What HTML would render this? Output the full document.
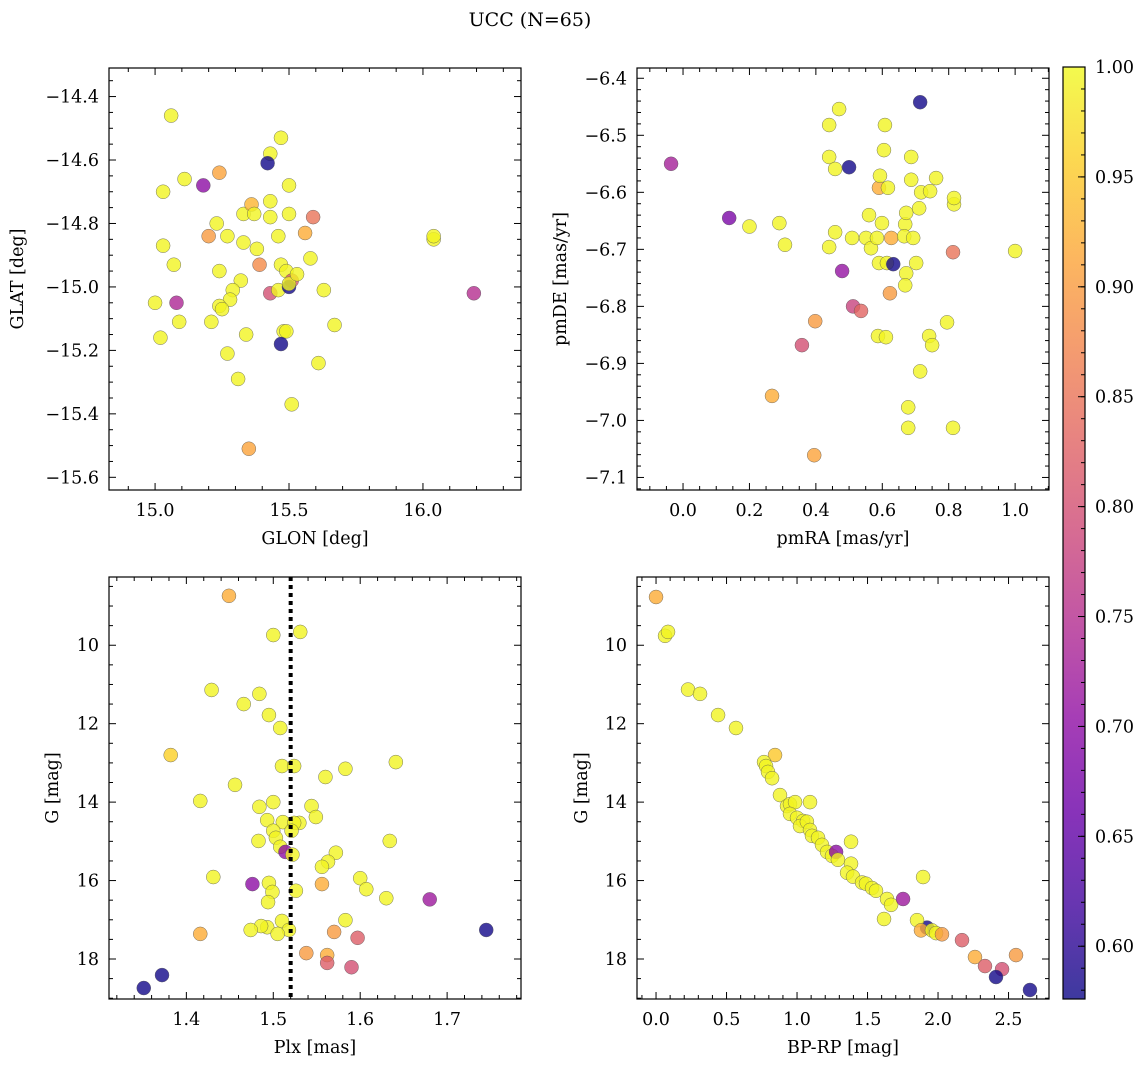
<!DOCTYPE html>
<html><head><meta charset="utf-8">
<style>
html,body{margin:0;padding:0;background:#fff;}
svg{display:block;font-family:"DejaVu Serif","Liberation Serif",serif;}
</style></head>
<body>
<svg id="fig" width="1148" height="1067" viewBox="0 0 1148 1067" xmlns="http://www.w3.org/2000/svg">
<defs>
<linearGradient id="plasma" x1="0" y1="1" x2="0" y2="0">
<stop offset="0" stop-color="#0d0887"/><stop offset="0.1" stop-color="#41049d"/><stop offset="0.2" stop-color="#6a00a8"/><stop offset="0.3" stop-color="#8f0da4"/><stop offset="0.4" stop-color="#b12a90"/><stop offset="0.5" stop-color="#cc4778"/><stop offset="0.6" stop-color="#e16462"/><stop offset="0.7" stop-color="#f2844b"/><stop offset="0.8" stop-color="#fca636"/><stop offset="0.9" stop-color="#fcce25"/><stop offset="1" stop-color="#f0f921"/>
</linearGradient>
</defs>
<text x="530" y="26" font-size="19" text-anchor="middle">UCC (N=65)</text>
</svg>
<script>
// ---- Panel 1: GLON vs GLAT ----
const p1x=[15.06,15.03,15.11,15.18,15.24,15.43,15.42,15.47,15.50,15.03,15.07,15.20,15.23,15.27,15.24,15.33,15.36,15.37,15.33,15.38,15.43,15.43,15.39,15.32,15.29,15.28,15.24,15.25,15.21,15.09,15.00,15.08,15.02,15.34,15.27,15.31,15.35,15.43,15.47,15.46,15.49,15.51,15.50,15.50,15.53,15.48,15.49,15.47,15.51,15.50,15.46,15.56,15.58,15.59,15.63,15.61,15.67,16.04,16.04,16.19];
const p1y=[-14.46,-14.70,-14.66,-14.68,-14.64,-14.58,-14.61,-14.53,-14.68,-14.87,-14.93,-14.84,-14.80,-14.84,-14.95,-14.77,-14.74,-14.77,-14.86,-14.88,-14.73,-14.78,-14.93,-14.98,-15.01,-15.04,-15.06,-15.07,-15.11,-15.11,-15.05,-15.05,-15.16,-15.15,-15.21,-15.29,-15.51,-15.02,-14.93,-15.01,-14.95,-14.98,-15.00,-14.99,-14.96,-15.14,-15.14,-15.18,-15.37,-14.77,-14.84,-14.83,-14.91,-14.78,-15.01,-15.24,-15.12,-14.85,-14.84,-15.02];
const p1c=[.995,.995,.995,.70,.91,.995,.58,.995,.995,.995,.995,.90,.995,.995,.995,.995,.93,.995,.995,.995,.995,.995,.88,.995,.995,.995,.995,.995,.995,.995,.995,.74,.995,.995,.995,.995,.91,.80,.995,.995,.995,.82,.58,.995,.995,.995,.995,.58,.995,.995,.995,.92,.995,.85,.995,.995,.995,.995,.995,.75];
// ---- Panel 2: pmRA vs pmDE ----
const p2x=[-0.036,0.139,0.20,0.29,0.307,0.47,0.44,0.44,0.458,0.50,0.458,0.44,0.479,0.509,0.512,0.536,0.398,0.358,0.268,0.395,0.551,0.56,0.566,0.584,0.59,0.593,0.605,0.608,0.617,0.599,0.59,0.614,0.623,0.587,0.611,0.627,0.633,0.669,0.672,0.666,0.672,0.669,0.678,0.678,0.687,0.687,0.693,0.702,0.714,0.711,0.714,0.717,0.744,0.762,0.741,0.75,0.795,0.816,0.816,0.813,0.813,1.0];
const p2y=[-6.55,-6.645,-6.66,-6.654,-6.692,-6.454,-6.482,-6.538,-6.559,-6.556,-6.67,-6.696,-6.738,-6.68,-6.80,-6.808,-6.826,-6.868,-6.957,-7.061,-6.68,-6.64,-6.698,-6.68,-6.592,-6.571,-6.526,-6.482,-6.592,-6.654,-6.724,-6.724,-6.777,-6.852,-6.854,-6.68,-6.726,-6.656,-6.636,-6.677,-6.742,-6.763,-6.977,-7.013,-6.578,-6.538,-6.68,-6.724,-6.442,-6.628,-6.914,-6.60,-6.598,-6.575,-6.852,-6.868,-6.828,-6.621,-6.61,-6.705,-7.013,-6.703];
const p2c=[.73,.68,.995,.995,.995,.995,.995,.995,.995,.58,.995,.995,.71,.995,.78,.83,.90,.80,.92,.91,.995,.995,.995,.995,.92,.995,.995,.995,.995,.995,.995,.995,.90,.995,.995,.92,.58,.995,.995,.995,.995,.995,.995,.995,.995,.995,.995,.995,.58,.995,.995,.995,.995,.995,.995,.995,.995,.995,.995,.85,.995,.995];
// ---- Panel 3: Plx vs G ----
const p3x=[1.449,1.500,1.531,1.429,1.466,1.484,1.495,1.508,1.382,1.510,1.524,1.583,1.641,1.416,1.456,1.560,1.500,1.484,1.544,1.549,1.530,1.493,1.511,1.524,1.500,1.521,1.483,1.503,1.634,1.508,1.514,1.522,1.572,1.563,1.556,1.431,1.476,1.495,1.499,1.526,1.556,1.600,1.607,1.494,1.583,1.630,1.680,1.510,1.493,1.486,1.474,1.518,1.505,1.570,1.416,1.597,1.538,1.562,1.562,1.590,1.372,1.351,1.745];
const p3y=[8.74,9.74,9.66,11.14,11.50,11.24,11.78,12.11,12.80,13.08,13.08,13.15,12.98,13.97,13.56,13.36,14.00,14.12,14.10,14.38,14.53,14.46,14.51,14.53,14.73,14.73,14.99,14.91,14.99,15.14,15.27,15.34,15.29,15.52,15.65,15.91,16.09,16.06,16.29,16.26,16.09,15.94,16.22,16.55,17.01,16.45,16.48,17.03,17.19,17.16,17.26,17.26,17.36,17.31,17.36,17.46,17.85,17.90,18.10,18.21,18.41,18.74,17.26];
const p3c=[.92,.995,.995,.995,.995,.995,.995,.995,.96,.995,.995,.995,.995,.995,.995,.995,.995,.995,.995,.995,.995,.995,.995,.995,.995,.995,.995,.995,.995,.995,.70,.995,.995,.995,.995,.995,.70,.995,.995,.995,.92,.995,.995,.995,.995,.995,.72,.995,.995,.995,.995,.995,.995,.90,.92,.82,.90,.92,.82,.80,.58,.58,.58];
// ---- Panel 4: BP-RP vs G ----
const p4x=[0.0,0.064,0.085,0.227,0.312,0.44,0.567,0.844,0.766,0.78,0.794,0.823,0.879,0.929,0.95,0.986,1.092,0.95,1.0,1.043,1.021,1.07,1.092,1.106,1.149,1.177,1.213,1.248,1.277,1.29,1.383,1.383,1.355,1.397,1.461,1.489,1.532,1.56,1.638,1.667,1.617,1.752,1.894,1.922,1.851,1.879,1.957,1.986,2.028,2.17,2.262,2.333,2.454,2.553,2.411,2.652];
const p4y=[8.77,9.76,9.66,11.13,11.24,11.78,12.11,12.80,12.98,13.08,13.23,13.39,13.82,14.10,14.05,14.00,14.00,14.30,14.40,14.48,14.61,14.50,14.71,14.86,14.91,15.09,15.27,15.37,15.27,15.47,15.01,15.57,15.80,15.90,16.05,16.08,16.19,16.26,16.47,16.62,16.98,16.47,15.91,17.20,17.01,17.27,17.27,17.34,17.37,17.52,17.95,18.18,18.26,17.90,18.46,18.79];
const p4c=[.92,.995,.995,.995,.995,.995,.995,.95,.995,.995,.995,.995,.995,.995,.995,.995,.995,.995,.995,.995,.995,.995,.995,.995,.995,.995,.995,.995,.70,.995,.995,.995,.995,.995,.995,.995,.995,.995,.995,.995,.995,.72,.995,.58,.995,.92,.995,.995,.90,.82,.92,.82,.80,.90,.58,.58];
// colorbar ticks
const cbTicks=[0.60,0.65,0.70,0.75,0.80,0.85,0.90,0.95,1.00];

const NS="http://www.w3.org/2000/svg";
const svg=document.getElementById('fig');
const VMIN=0.576,VMAX=1.0;
const FS=17.5;
const stops=[[13,8,135],[65,4,157],[106,0,168],[143,13,164],[177,42,144],[204,71,120],[225,100,98],[242,132,75],[252,166,54],[252,206,37],[240,249,33]];
function cmap(v){let t=(v-VMIN)/(VMAX-VMIN);t=Math.max(0,Math.min(1,t))*10;let i=Math.min(9,Math.floor(t)),f=t-i;const a=stops[i],b=stops[i+1];return 'rgb('+a.map((x,k)=>Math.round(x+(b[k]-x)*f)).join(',')+')';}
function el(tag,attrs,parent){const e=document.createElementNS(NS,tag);for(const k in attrs)e.setAttribute(k,attrs[k]);(parent||svg).appendChild(e);return e;}
function fmt(v,d){const s=Math.abs(v).toFixed(d);return (v<-1e-9?'\u2212':'')+s;}

function panel(o){
  const g=el('g',{});
  
  
  const sx=v=>o.x0+(v-o.xd[0])/(o.xd[1]-o.xd[0])*(o.x1-o.x0);
  const sy=v=>o.y1-(v-o.yd[0])/(o.yd[1]-o.yd[0])*(o.y1-o.y0);
  const pg=el('g',{},g);
  
  
  for(let i=0;i<o.px.length;i++){
    const c=el('circle',{cx:sx(o.px[i]),cy:sy(o.py[i]),r:7,fill:cmap(o.pc[i]),'fill-opacity':0.8,stroke:'#555','stroke-width':0.5,'stroke-opacity':0.8},pg);
    
    
  }
  if(o.vline!==undefined){
    const l=el('line',{x1:sx(o.vline),x2:sx(o.vline),y1:o.y0,y2:o.y1,stroke:'#000','stroke-width':4,'stroke-dasharray':'4,4'},g);
    
    
  }
  const fr=el('rect',{x:o.x0,y:o.y0,width:o.x1-o.x0,height:o.y1-o.y0,fill:'none',stroke:'#000','stroke-width':1.2},g);
  
  
  const tk=el('g',{stroke:'#000','stroke-width':1},g);
  const xlo=Math.min(...o.xd),xhi=Math.max(...o.xd),ylo=Math.min(...o.yd),yhi=Math.max(...o.yd);
  for(let v=Math.ceil(xlo/o.xmin-1e-6)*o.xmin;v<=xhi+1e-9;v+=o.xmin){
    const X=sx(v),maj=Math.abs(v/o.xmaj-Math.round(v/o.xmaj))<1e-4,L=maj?7:4;
    el('line',{x1:X,x2:X,y1:o.y1,y2:o.y1-L},tk);el('line',{x1:X,x2:X,y1:o.y0,y2:o.y0+L},tk);
    if(maj){const t=el('text',{x:X,y:o.y1+26,'font-size':FS,'text-anchor':'middle',stroke:'none'},g);t.textContent=fmt(v,o.xdec);
      }
  }
  for(let v=Math.ceil(ylo/o.ymin-1e-6)*o.ymin;v<=yhi+1e-9;v+=o.ymin){
    const Y=sy(v),maj=Math.abs(v/o.ymaj-Math.round(v/o.ymaj))<1e-4,L=maj?7:4;
    el('line',{x1:o.x0,x2:o.x0+L,y1:Y,y2:Y},tk);el('line',{x1:o.x1,x2:o.x1-L,y1:Y,y2:Y},tk);
    if(maj){const t=el('text',{x:o.x0-10,y:Y+6,'font-size':FS,'text-anchor':'end',stroke:'none'},g);t.textContent=fmt(v,o.ydec);
      }
  }
  const xl=el('text',{x:(o.x0+o.x1)/2,y:o.y1+54,'font-size':FS,'text-anchor':'middle'},g);xl.textContent=o.xlabel;
  
  const yx=o.ylx,yy=(o.y0+o.y1)/2;
  const yl=el('text',{x:yx,y:yy,'font-size':FS,'text-anchor':'middle',transform:'rotate(-90 '+yx+' '+yy+')'},g);yl.textContent=o.ylabel;
  
}

panel({name:'glon-glat-panel',x0:109,y0:68,x1:521,y1:490,xd:[14.828,16.366],yd:[-15.64,-14.31],px:p1x,py:p1y,pc:p1c,xmaj:0.5,xmin:0.1,ymaj:0.2,ymin:0.05,xdec:1,ydec:1,xlabel:'GLON [deg]',ylabel:'GLAT [deg]',ylx:23});
panel({name:'pm-panel',x0:637,y0:68,x1:1049,y1:490,xd:[-0.1386,1.102],yd:[-7.122,-6.382],px:p2x,py:p2y,pc:p2c,xmaj:0.2,xmin:0.05,ymaj:0.1,ymin:0.02,xdec:1,ydec:1,xlabel:'pmRA [mas/yr]',ylabel:'pmDE [mas/yr]',ylx:566});
panel({name:'plx-g-panel',x0:109,y0:577,x1:521,y1:999,xd:[1.311,1.785],yd:[19.02,8.26],px:p3x,py:p3y,pc:p3c,xmaj:0.1,xmin:0.02,ymaj:2,ymin:0.5,xdec:1,ydec:0,xlabel:'Plx [mas]',ylabel:'G [mag]',ylx:58,vline:1.52});
panel({name:'cmd-panel',x0:637,y0:577,x1:1049,y1:999,xd:[-0.135,2.787],yd:[19.02,8.26],px:p4x,py:p4y,pc:p4c,xmaj:0.5,xmin:0.1,ymaj:2,ymin:0.5,xdec:1,ydec:0,xlabel:'BP-RP [mag]',ylabel:'G [mag]',ylx:587});

const cb=el('g',{});


const cbX0=1063,cbX1=1085,cbY0=67,cbY1=999;
el('rect',{x:cbX0,y:cbY0,width:cbX1-cbX0,height:cbY1-cbY0,fill:'url(#plasma)','fill-opacity':0.8},cb);
el('rect',{x:cbX0,y:cbY0,width:cbX1-cbX0,height:cbY1-cbY0,fill:'none',stroke:'#000','stroke-width':1.2},cb);
const cy=v=>cbY1-(v-VMIN)/(VMAX-VMIN)*(cbY1-cbY0);
for(let v=0.58;v<=1.0001;v+=0.01){const Y=cy(v);el('line',{x1:cbX1,x2:cbX1-4,y1:Y,y2:Y,stroke:'#000','stroke-width':1},cb);}
cbTicks.forEach(v=>{const Y=cy(v);el('line',{x1:cbX1,x2:cbX1-7,y1:Y,y2:Y,stroke:'#000','stroke-width':1},cb);
  const t=el('text',{x:cbX1+10,y:Y+6,'font-size':FS},cb);t.textContent=v.toFixed(2);
  });
</script>
</body></html>
